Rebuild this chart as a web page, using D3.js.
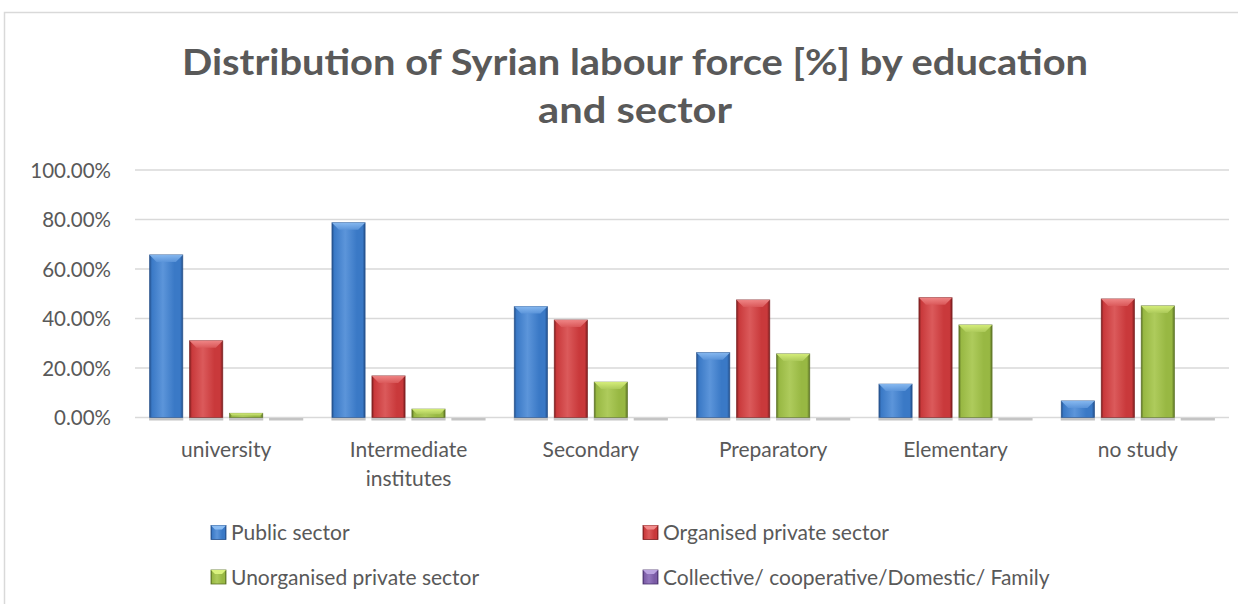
<!DOCTYPE html>
<html>
<head>
<meta charset="utf-8">
<script src="https://cdn.jsdelivr.net/npm/d3@7"></script>
<style>
  html, body { margin: 0; padding: 0; background: #fff; }
  svg { display: block; }
  text { font-family: Lato, "Open Sans", "Noto Sans", sans-serif; fill: #595959; }
</style>
</head>
<body>
<svg id="chart" width="1238" height="604"></svg>
<script>
// Education levels along the x axis
const categories = ["university", "Intermediate institutes", "Secondary", "Preparatory", "Elementary", "no study"];

// Employment sectors (one bar per sector in each group)
const sectors = [
  "Public sector",
  "Organised private sector",
  "Unorganised private sector",
  "Collective/ cooperative/Domestic/ Family"
];

// Share of labour force, in percent, per sector for each education level
const publicSector       = [65.7, 78.7, 44.8, 26.2, 13.5, 6.7];
const organisedPrivate   = [31.0, 16.8, 39.4, 47.5, 48.4, 47.9];
const unorganisedPrivate = [1.7, 3.4, 14.3, 25.7, 37.4, 45.1];
const collectiveFamily   = [0, 0, 0, 0, 0, 0];

// Y axis tick values (fractions)
const yTicks = [0, 0.2, 0.4, 0.6, 0.8, 1.0];

const seriesValues = [publicSector, organisedPrivate, unorganisedPrivate, collectiveFamily];

const palette = [
  { base: "#3A79C6", light: "#5C95DA", dark: "#234F8A", top: "#8CBDF3" },
  { base: "#C9393B", light: "#DB5A5B", dark: "#7A1D1E", top: "#F28B8B" },
  { base: "#98B843", light: "#AECB5C", dark: "#5B7224", top: "#DAF27E" },
  { base: "#7B5BA6", light: "#9478BF", dark: "#4A336E", top: "#BBA4E0" }
];

const svg = d3.select("#chart");
const W = 1238, H = 604;

const plot = { left: 135, right: 1229, top: 170, bottom: 417.5 };

// Chart frame
svg.append("rect")
  .attr("x", 4.5).attr("y", 12.5)
  .attr("width", W + 20).attr("height", H + 20)
  .attr("fill", "#fff").attr("stroke", "#D9D9D9").attr("stroke-width", 1.5);

// Title
const title = svg.append("text")
  .attr("text-anchor", "middle")
  .attr("font-weight", "bold")
  .attr("font-size", 37)
  .style("fill", "#595959");
title.append("tspan").attr("x", 635).attr("y", 75)
  .attr("textLength", 906).attr("lengthAdjust", "spacingAndGlyphs")
  .text("Distribution of Syrian labour force [%] by education");
title.append("tspan").attr("x", 635).attr("y", 123)
  .attr("textLength", 194).attr("lengthAdjust", "spacingAndGlyphs")
  .text("and sector");

// Scales
const x0 = d3.scaleBand().domain(categories).range([plot.left, plot.right]).padding(0);
const groupPad = 14.6;
const x1 = d3.scaleBand().domain(d3.range(sectors.length))
  .range([groupPad, x0.bandwidth() - groupPad]).paddingInner(0.17).paddingOuter(0);
const y = d3.scaleLinear().domain([0, 1]).range([plot.bottom, plot.top]);

// Gridlines
svg.append("g").selectAll("line")
  .data(yTicks)
  .join("line")
  .attr("x1", plot.left).attr("x2", plot.right)
  .attr("y1", d => y(d)).attr("y2", d => y(d))
  .attr("stroke", "#D9D9D9").attr("stroke-width", 1.5);

// Y axis labels
const yAxis = d3.axisLeft(y).tickValues(yTicks).tickFormat(d3.format(".2%")).tickSize(0).tickPadding(0);
const gy = svg.append("g").attr("transform", `translate(${plot.left - 24},0)`).call(yAxis);
gy.select(".domain").remove();
gy.selectAll("text").attr("font-size", 20.5).style("font-family", "Lato, 'Open Sans', sans-serif").style("fill", "#595959").attr("dy", "0.36em");

// Gradients for the bevelled bars
const defs = svg.append("defs");
palette.forEach((c, i) => {
  const g = defs.append("linearGradient").attr("id", "body" + i)
    .attr("x1", "0").attr("x2", "1").attr("y1", "0").attr("y2", "0");
  g.append("stop").attr("offset", "0").attr("stop-color", c.dark);
  g.append("stop").attr("offset", "0.07").attr("stop-color", c.base);
  g.append("stop").attr("offset", "0.4").attr("stop-color", c.light);
  g.append("stop").attr("offset", "0.75").attr("stop-color", c.base);
  g.append("stop").attr("offset", "0.92").attr("stop-color", c.base);
  g.append("stop").attr("offset", "1").attr("stop-color", c.dark);
  const t = defs.append("linearGradient").attr("id", "top" + i)
    .attr("x1", "0").attr("x2", "0").attr("y1", "0").attr("y2", "1");
  t.append("stop").attr("offset", "0").attr("stop-color", c.top);
  t.append("stop").attr("offset", "1").attr("stop-color", c.light);
});

// Flattened bar data
const bars = [];
categories.forEach((cat, ci) => {
  seriesValues.forEach((vals, si) => {
    bars.push({ cat, si, v: vals[ci] / 100 });
  });
});

const bev = 7;
const gBars = svg.append("g");
const bar = gBars.selectAll("g.bar").data(bars).join("g").attr("class", "bar");

// soft shadow under each bar
bar.append("rect")
  .attr("x", d => x0(d.cat) + x1(d.si) - 0.5)
  .attr("y", plot.bottom + 0.5)
  .attr("width", x1.bandwidth() + 1)
  .attr("height", 2.5)
  .attr("fill", "#C4C4C4");

// bar body
bar.append("rect")
  .attr("x", d => x0(d.cat) + x1(d.si))
  .attr("y", d => y(d.v))
  .attr("width", x1.bandwidth())
  .attr("height", d => plot.bottom - y(d.v))
  .attr("fill", d => `url(#body${d.si})`)
  .attr("stroke", d => palette[d.si].dark)
  .attr("stroke-width", 0.8)
  .attr("stroke-opacity", d => d.v > 0 ? 0.8 : 0);

// top bevel
bar.filter(d => d.v > 0).append("path")
  .attr("d", d => {
    const xl = x0(d.cat) + x1(d.si), w = x1.bandwidth();
    const yt = y(d.v), h = plot.bottom - yt;
    const b = Math.min(bev, h * 0.6);
    return `M${xl},${yt}L${xl + w},${yt}L${xl + w - b},${yt + b}L${xl + b},${yt + b}Z`;
  })
  .attr("fill", d => `url(#top${d.si})`)
  .attr("opacity", 0.9);

// X axis category labels, wrapped to the band width
const labelSize = 21;
const labelWidth = 150;
const gx = svg.append("g");
categories.forEach(cat => {
  const t = gx.append("text")
    .attr("text-anchor", "middle")
    .attr("font-size", labelSize)
    .style("fill", "#595959");
  const cx = x0(cat) + x0.bandwidth() / 2;
  const words = cat.split(" ");
  let lines = [], line = [];
  const probe = gx.append("text").attr("font-size", labelSize);
  words.forEach(w => {
    const test = line.concat(w).join(" ");
    probe.text(test);
    if (probe.node().getComputedTextLength() > labelWidth && line.length) {
      lines.push(line.join(" "));
      line = [w];
    } else {
      line.push(w);
    }
  });
  lines.push(line.join(" "));
  probe.remove();
  lines.forEach((l, i) => {
    t.append("tspan").attr("x", cx).attr("y", 457 + i * 29).text(l);
  });
});

// Legend
const legendPos = [
  { x: 211, y: 532.5 }, { x: 643, y: 532.5 },
  { x: 211, y: 577 }, { x: 643, y: 577 }
];
const lg = svg.append("g");
sectors.forEach((s, i) => {
  const p = legendPos[i];
  const c = palette[i];
  lg.append("rect").attr("x", p.x).attr("y", p.y - 7).attr("width", 15).attr("height", 14)
    .attr("fill", `url(#body${i})`).attr("stroke", c.dark).attr("stroke-width", 0.8);
  lg.append("path")
    .attr("d", `M${p.x},${p.y - 7}L${p.x + 15},${p.y - 7}L${p.x + 11},${p.y - 3}L${p.x + 4},${p.y - 3}Z`)
    .attr("fill", c.top);
  lg.append("text").attr("x", p.x + 20).attr("y", p.y).attr("dy", "0.36em")
    .attr("font-size", 21).style("fill", "#595959").text(s);
});
</script>
</body>
</html>
